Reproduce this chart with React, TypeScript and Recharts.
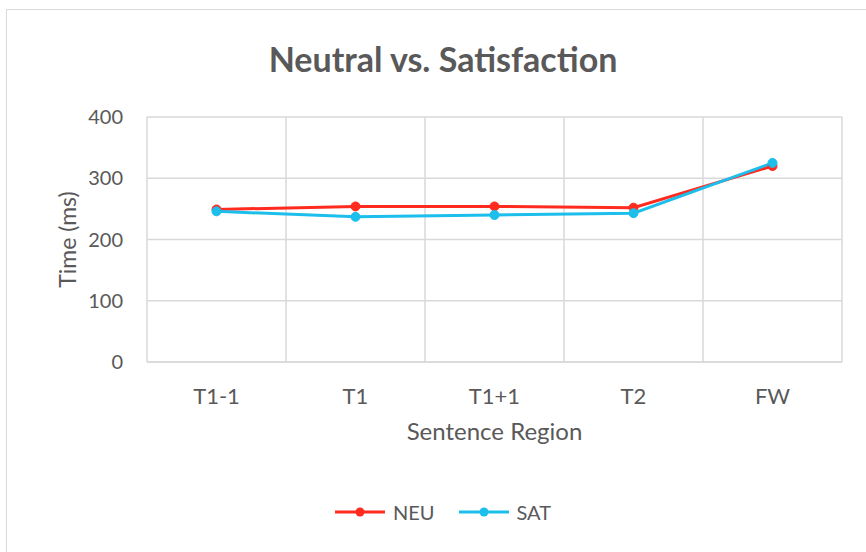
import React from 'react';
import { LineChart, Line, XAxis, YAxis, CartesianGrid, Legend, Label } from 'recharts';

const categories = ['T1-1', 'T1', 'T1+1', 'T2', 'FW'];
const neuValues = [249, 254, 254, 252, 320];
const satValues = [246, 237, 240, 243, 325];
const yTicks = [0, 100, 200, 300, 400];

const seriesNames = { neu: 'NEU', sat: 'SAT' };
const data = categories.map((c, i) => ({ region: c, NEU: neuValues[i], SAT: satValues[i] }));

const RED = '#FF2B1F';
const CYAN = '#1CBEEC';
const TEXT = '#595959';
const GRID = '#D9D9D9';
const FONT = 'Lato, "Open Sans", sans-serif';

const LegendContent = () => {
  const items = [
    { name: seriesNames.neu, color: RED },
    { name: seriesNames.sat, color: CYAN },
  ];
  return (
    <div style={{ display: 'flex', justifyContent: 'center', alignItems: 'center', fontFamily: FONT, fontSize: 20, color: TEXT }}>
      {items.map((it, idx) => (
        <div key={it.name} style={{ display: 'flex', alignItems: 'center', marginLeft: idx === 0 ? 0 : 24 }}>
          <svg width={50} height={12} style={{ marginRight: 8 }}>
            <line x1={0} y1={6} x2={50} y2={6} stroke={it.color} strokeWidth={3} />
            <circle cx={25} cy={6} r={4.5} fill={it.color} />
          </svg>
          <span>{it.name}</span>
        </div>
      ))}
    </div>
  );
};

export default function App() {
  return (
    <div style={{ position: 'absolute', left: 0, top: 0, width: 866, height: 552, background: '#fff', overflow: 'hidden' }}>
      <div style={{ position: 'absolute', left: 6, top: 9, width: 900, height: 600, borderLeft: `1.5px solid ${GRID}`, borderTop: `1.5px solid ${GRID}` }} />
      <div style={{ position: 'absolute', left: 0, top: 38, width: 886, textAlign: 'center', fontFamily: FONT, fontWeight: 700, fontSize: 34, color: TEXT }}>
        Neutral vs. Satisfaction
      </div>
      <LineChart width={866} height={552} data={data} margin={{ top: 117, right: 24, bottom: 110, left: 0 }} style={{ position: 'absolute', left: 0, top: 0 }}>
        <CartesianGrid stroke={GRID} strokeWidth={1.5} vertical horizontal verticalCoordinatesGenerator={({ offset }: any) => {
          const n = categories.length;
          const w = offset.width / n;
          return Array.from({ length: n + 1 }, (_, i) => offset.left + i * w);
        }} />
        <XAxis
          dataKey="region"
          scale="band"
          height={80}
          axisLine={{ stroke: GRID, strokeWidth: 1.5 }}
          tickLine={false}
          tickMargin={20}
          tick={{ fill: TEXT, fontSize: 22, fontFamily: FONT }}
          interval={0}
        >
          <Label value="Sentence Region" position="insideTop" offset={61} style={{ fill: TEXT, fontSize: 24, fontFamily: FONT }} />
        </XAxis>
        <YAxis
          width={147}
          domain={[0, 400]}
          ticks={yTicks}
          axisLine={false}
          tickLine={false}
          tickMargin={18}
          tick={{ fill: TEXT, fontSize: 20, fontFamily: FONT }}
        >
          <Label
            content={({ viewBox }: any) => {
              const cx = viewBox.x + 67;
              const cy = viewBox.y + viewBox.height / 2;
              return (
                <text x={cx} y={cy} transform={`rotate(-90 ${cx} ${cy})`} textAnchor="middle" dominantBaseline="central" fill={TEXT} fontSize={23} fontFamily={FONT}>
                  Time (ms)
                </text>
              );
            }}
          />
        </YAxis>
        <Legend verticalAlign="middle" align="center" layout="horizontal" content={<LegendContent />} wrapperStyle={{ top: 500, left: 0, width: 886 }} />
        <Line dataKey="NEU" name={seriesNames.neu} stroke={RED} strokeWidth={3} dot={{ r: 4.5, fill: RED, stroke: RED, strokeWidth: 1 }} activeDot={false} isAnimationActive={false} />
        <Line dataKey="SAT" name={seriesNames.sat} stroke={CYAN} strokeWidth={3} dot={{ r: 4.5, fill: CYAN, stroke: CYAN, strokeWidth: 1 }} activeDot={false} isAnimationActive={false} />
      </LineChart>
    </div>
  );
}
